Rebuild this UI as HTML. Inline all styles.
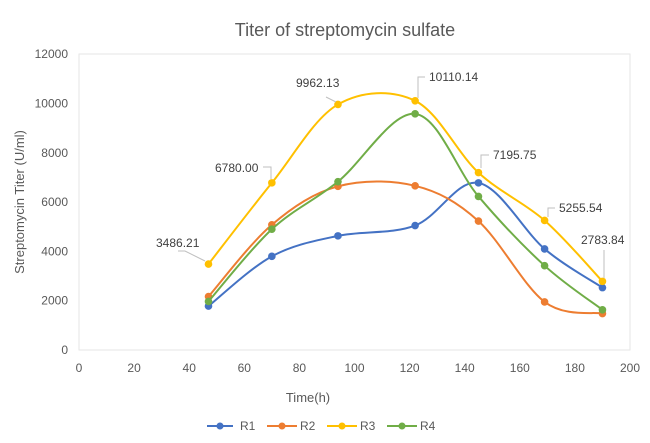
<!DOCTYPE html><html><head><style>body{margin:0;background:#fff}svg{display:block;font-family:"Liberation Sans",sans-serif}</style></head><body>
<svg id="s" width="650" height="443" viewBox="0 0 650 443">
<text x="345" y="36" font-size="18" fill="#595959" text-anchor="middle">Titer of streptomycin sulfate</text>
<rect x="79" y="54" width="551" height="296" fill="none" stroke="#e6e6e6"/>
<g id="ax" font-size="12" fill="#595959"></g>
<text x="308" y="402" font-size="13" fill="#595959" text-anchor="middle">Time(h)</text>
<text transform="translate(24,202) rotate(-90)" font-size="13" fill="#595959" text-anchor="middle">Streptomycin Titer (U/ml)</text>
<g id="series"></g>
<g font-size="12" fill="#595959">
<polyline points="207,426 233,426" stroke="#4472c4" stroke-width="2"/><circle cx="220" cy="426" r="3.5" fill="#4472c4"/><text x="240" y="430">R1</text>
<polyline points="267,426 297,426" stroke="#ed7d31" stroke-width="2"/><circle cx="282" cy="426" r="3.5" fill="#ed7d31"/><text x="300" y="430">R2</text>
<polyline points="327,426 357,426" stroke="#ffc000" stroke-width="2"/><circle cx="342" cy="426" r="3.5" fill="#ffc000"/><text x="360" y="430">R3</text>
<polyline points="387,426 417,426" stroke="#70ad47" stroke-width="2"/><circle cx="402" cy="426" r="3.5" fill="#70ad47"/><text x="420" y="430">R4</text>
</g>
<g font-size="12" fill="#404040" id="lab"></g>
</svg>
<script>
const X=v=>79+v*2.755,Y=v=>350-v*0.02465;
const ax=document.getElementById('ax');let h='';
for(let i=0;i<=12000;i+=2000)h+=`<text x="68" y="${Y(i)+4}" text-anchor="end">${i}</text>`;
for(let i=0;i<=200;i+=20)h+=`<text x="${X(i)}" y="372" text-anchor="middle">${i}</text>`;
ax.innerHTML=h;
const xs=[47,70,94,122,145,169,190];
const S=[["#4472c4",[1780,3800,4630,5050,6780,4100,2530]],["#ed7d31",[2170,5080,6640,6660,5230,1950,1480]],["#70ad47",[1970,4900,6830,9580,6230,3420,1630]],["#ffc000",[3486,6780,9962,10110,7196,5256,2784]]];
let g='';
for(const [c,d] of S){const p=xs.map((x,i)=>[X(x),Y(d[i])]);let s=`M${p[0]}`;
for(let i=0;i<p.length-1;i++){const a=p[i-1]||p[i],b=p[i],e=p[i+1],f=p[i+2]||e,t=6;
s+=` C${b[0]+(e[0]-a[0])/t},${b[1]+(e[1]-a[1])/t} ${e[0]-(f[0]-b[0])/t},${e[1]-(f[1]-b[1])/t} ${e[0]},${e[1]}`;}
g+=`<path d="${s}" fill="none" stroke="${c}" stroke-width="2"/>`;p.forEach(q=>g+=`<circle cx="${q[0]}" cy="${q[1]}" r="3.8" fill="${c}"/>`);}
document.getElementById('series').innerHTML=g;
let l='';
l+=`<text x="156" y="247">3486.21</text><polyline points="178,251 185,251 205,261" fill="none" stroke="#bfbfbf"/>`;
l+=`<text x="215" y="172">6780.00</text><polyline points="263,167 271,167 271,179" fill="none" stroke="#bfbfbf"/>`;
l+=`<text x="296" y="87">9962.13</text><polyline points="326,97 336,102" fill="none" stroke="#bfbfbf"/>`;
l+=`<text x="429" y="81">10110.14</text><polyline points="425,77 418,77 418,98" fill="none" stroke="#bfbfbf"/>`;
l+=`<text x="493" y="159">7195.75</text><polyline points="489,155 481,155 481,168" fill="none" stroke="#bfbfbf"/>`;
l+=`<text x="559" y="212">5255.54</text><polyline points="555,208 548,208 548,217" fill="none" stroke="#bfbfbf"/>`;
l+=`<text x="581" y="244">2783.84</text><polyline points="604,250 604,278" fill="none" stroke="#bfbfbf"/>`;
document.getElementById('lab').innerHTML=l;
</script></body></html>
